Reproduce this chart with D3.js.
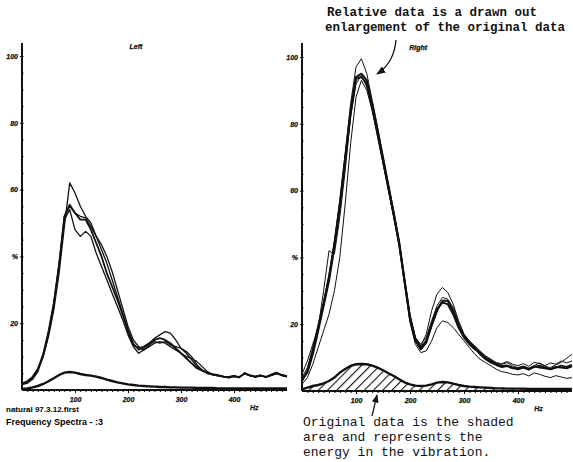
<!DOCTYPE html>
<html>
<head>
<meta charset="utf-8">
<script src="https://cdn.jsdelivr.net/npm/d3@7"></script>
<style>
  body { margin: 0; background: #fff; }
  svg { display: block; }
  .lbl { font-family: "Liberation Sans", Arial, sans-serif; font-weight: bold; font-style: italic; fill: #111; stroke: #111; stroke-width: 0.25; }
  .note { font-family: "Liberation Mono", "DejaVu Sans Mono", monospace; fill: #111; }
</style>
</head>
<body>
<div id="grafico"></div>
<script>
// spettri di frequenza (Hz, % relativo)
const freqs = [0, 10, 20, 30, 40, 50, 60, 70, 80, 90, 100, 110, 120, 130, 140, 150, 160, 170, 180, 190,
  200, 210, 220, 230, 240, 250, 260, 270, 280, 290, 300, 310, 320, 330, 340, 350, 360, 370, 380, 390,
  400, 410, 420, 430, 440, 450, 460, 470, 480, 490, 500];

// pannello sinistro - dati relativi
const leftA = [2, 2.5, 4, 6.5, 10, 16, 24, 35, 49, 62, 59, 55, 52, 50, 46, 42, 38, 33, 28, 23,
  18, 14, 12, 12.5, 14, 15.5, 16.5, 17.5, 17, 15, 12.5, 11, 9, 7, 6, 5.2, 4.8, 4.5, 4, 3.8,
  4.3, 3.7, 5.2, 4.2, 4, 4.4, 3.9, 4.7, 5.3, 4.3, 4];
const leftB = [1.5, 2.3, 3.5, 6, 10.5, 17, 26, 38, 52, 55, 53, 52, 51.5, 49, 46, 43.5, 40, 35.5, 30, 24.5,
  19, 15, 13, 12, 13.5, 14.5, 14, 14.5, 13.5, 13, 12.5, 11.5, 10, 7.5, 6, 5, 4.6, 4.4, 4.1, 3.6,
  4, 3.9, 5, 4.5, 3.8, 4.2, 4, 4.4, 5, 4.6, 4.2];
const leftC = [1.8, 2, 3.2, 5.5, 10, 16.5, 25, 37, 51, 54, 48, 46, 47.5, 46, 41, 37, 33, 29, 25, 21,
  16.5, 13, 11, 12, 13, 14, 14.5, 14, 13, 12, 11, 10, 9.5, 8.5, 7, 5.5, 4.5, 4.2, 3.9, 3.7,
  4.1, 4, 4.8, 4.3, 3.9, 4.5, 3.8, 4.3, 4.9, 4.4, 3.9];
const leftD = [2, 2.6, 3.8, 6.2, 10.8, 17.5, 26, 37.5, 52, 55.5, 53, 51, 51, 48, 44, 40, 35, 31, 27, 22.5,
  17.5, 13.5, 12.5, 13, 14, 15, 15.5, 15, 14, 12.5, 11, 9.5, 8, 6.5, 5.8, 5, 4.6, 4.3, 4, 3.9,
  4.2, 3.8, 4.9, 4.4, 4.1, 4.3, 3.9, 4.5, 5.1, 4.5, 4.1];
// pannello sinistro - dati originali
const leftOrig = [0.3, 0.5, 0.8, 1.2, 1.8, 2.6, 3.5, 4.5, 5.2, 5.4, 5.2, 4.8, 4.5, 4.3, 4, 3.6, 3.1, 2.7, 2.3, 2,
  1.7, 1.5, 1.3, 1.2, 1.1, 1, 0.9, 0.9, 0.8, 0.8, 0.7, 0.7, 0.7, 0.6, 0.6, 0.6, 0.6, 0.5, 0.5, 0.5,
  0.5, 0.5, 0.5, 0.5, 0.5, 0.5, 0.5, 0.5, 0.5, 0.5, 0.5];

// pannello destro - dati relativi
const rightA = [4, 7, 13, 20, 27, 35, 45, 57, 71, 86, 97, 99.5, 95, 87, 79, 70, 62, 54, 45, 34,
  23, 16, 13.5, 17, 24, 29, 31, 29.5, 26, 21, 17, 15, 13.5, 12, 10.5, 9.5, 8.5, 8, 8.5, 7.5,
  7, 7.5, 6.8, 7.6, 8.4, 7.4, 7, 7.8, 8.6, 9.8, 11];
const rightB = [3, 6, 12, 19, 26, 34, 44, 56, 70, 84, 94, 95, 93, 86, 78, 70, 61.5, 53, 44.5, 33,
  22, 15.5, 13, 15, 20, 24.5, 26.5, 26, 23, 19, 16, 14, 12.5, 11.5, 10, 9, 8, 7.5, 7.6, 7,
  6.5, 7, 6.4, 7.2, 7.6, 7, 6.5, 7, 7.6, 7.2, 7.8];
const rightC = [3.5, 5.5, 11, 18, 25.5, 33, 43, 55, 69, 83, 93.5, 94, 92, 85, 77, 69, 61, 52.5, 44, 32.5,
  21.5, 15, 12.5, 14.5, 19.5, 24, 27, 27, 24, 19.5, 16.5, 14.5, 13, 11, 9.5, 8.5, 7.8, 7.2, 7.5, 6.8,
  6.8, 7.2, 6.6, 7.4, 7, 6.8, 6.6, 7.2, 7, 6.8, 7.4];
const rightD = [2, 4, 8, 13, 18, 23, 30, 40, 56, 74, 88, 93, 90, 84, 76, 68, 60, 52, 43, 32,
  20.5, 14, 11.5, 12, 15, 19, 21, 20.5, 19, 17, 15, 13, 11, 9.5, 8.5, 7.5, 6.5, 5.8, 5.5, 5,
  4.8, 5.2, 4.5, 5.4, 5, 4.4, 4, 4.6, 4.2, 3.8, 4];
const rightE = [5, 9, 14, 19, 30, 42, 41, 52, 66, 82, 92, 94.5, 91, 84, 77, 68.5, 60, 52, 44, 33,
  22.5, 16, 14, 16, 21, 25.5, 28, 27.5, 25, 20.5, 17, 15, 13, 11.5, 10, 9.2, 8.4, 8.2, 8.8, 8,
  7.6, 8.2, 7.4, 8.6, 8.2, 7.6, 8.4, 8, 9, 8.4, 9];
// pannello destro - dati originali (area tratteggiata)
const rightOrig = [0.5, 1, 1.5, 1.8, 2.3, 3, 4, 5.5, 6.6, 7.5, 8, 8.1, 8, 7.6, 7, 6.2, 5.3, 4.5, 3.5, 2.6,
  2, 1.6, 1.5, 1.6, 2, 2.5, 2.7, 2.6, 2.2, 1.8, 1.5, 1.3, 1.2, 1.1, 1, 0.9, 0.8, 0.8, 0.7, 0.7,
  0.7, 0.7, 0.6, 0.6, 0.6, 0.6, 0.6, 0.6, 0.6, 0.6, 0.6];

const xTicks = [100, 200, 300, 400];
const yTicks = [20, 40, 60, 80, 100];
const yTickLabels = ["20", "%", "60", "80", "100"];

const width = 573, height = 462;

const svg = d3.select("#grafico")
  .append("svg")
  .attr("width", width)
  .attr("height", height);

const defs = svg.append("defs");

// tratteggio per l'area dei dati originali
defs.append("pattern")
  .attr("id", "hatch")
  .attr("patternUnits", "userSpaceOnUse")
  .attr("width", 6.5)
  .attr("height", 6.5)
  .attr("patternTransform", "rotate(45)")
  .append("line")
  .attr("x1", 0).attr("y1", 0)
  .attr("x2", 0).attr("y2", 6.5)
  .attr("stroke", "#111")
  .attr("stroke-width", 2.2);

defs.append("marker")
  .attr("id", "arrow")
  .attr("viewBox", "0 0 10 10")
  .attr("refX", 9).attr("refY", 5)
  .attr("markerWidth", 7).attr("markerHeight", 7)
  .attr("orient", "auto")
  .append("path")
  .attr("d", "M0,1 L10,5 L0,9 Z")
  .attr("fill", "#111");

function drawPanel(p) {
  const x = d3.scaleLinear().domain([0, 500]).range([p.x0, p.x1]);
  const y = d3.scaleLinear().domain([0, 100]).range([p.yBase, p.yTop]);
  const g = svg.append("g");

  // asse y: linea, tacche e etichette
  g.append("line")
    .attr("x1", p.x0).attr("x2", p.x0)
    .attr("y1", p.axisTop).attr("y2", p.yBase)
    .attr("stroke", "#111").attr("stroke-width", 2);

  const yAxis = g.append("g")
    .attr("transform", `translate(${p.x0},0)`)
    .call(d3.axisLeft(y).tickValues(yTicks).tickSize(2).tickPadding(2)
      .tickFormat((d, i) => yTickLabels[i]));
  yAxis.select(".domain").remove();
  yAxis.selectAll("text").attr("class", "lbl").attr("font-size", 7).attr("font-family", null);

  g.append("g")
    .attr("transform", `translate(${p.x0},0)`)
    .call(d3.axisRight(y).tickValues(d3.range(5, 101, 5)).tickSize(1.5).tickFormat(""))
    .call(a => a.select(".domain").remove());

  // asse x
  g.append("line")
    .attr("x1", p.x0).attr("x2", p.x1)
    .attr("y1", p.yBase).attr("y2", p.yBase)
    .attr("stroke", "#111").attr("stroke-width", 2);

  const xAxis = g.append("g")
    .attr("transform", `translate(0,${p.yBase})`)
    .call(d3.axisBottom(x).tickValues(xTicks).tickSize(3).tickPadding(4));
  xAxis.select(".domain").remove();
  xAxis.selectAll("text").attr("class", "lbl").attr("font-size", 7).attr("font-family", null);

  g.append("g")
    .attr("transform", `translate(0,${p.yBase})`)
    .call(d3.axisBottom(x).tickValues(d3.range(10, 500, 10)).tickSize(2).tickFormat(""))
    .call(a => a.select(".domain").remove());

  g.append("text")
    .attr("class", "lbl")
    .attr("x", x(430))
    .attr("y", p.yBase + 20)
    .attr("font-size", 7)
    .text("Hz");

  g.append("text")
    .attr("class", "lbl")
    .attr("x", x(215))
    .attr("y", p.yTop - 7)
    .attr("text-anchor", "middle")
    .attr("font-size", 7)
    .text(p.title);

  const line = d3.line()
    .x((d, i) => x(freqs[i]))
    .y(d => y(d));

  // dati originali
  if (p.hatched) {
    const area = d3.area()
      .x((d, i) => x(freqs[i]))
      .y0(y(0))
      .y1(d => y(d));
    g.append("path")
      .attr("d", area(p.orig))
      .attr("fill", "url(#hatch)");
  }
  g.append("path")
    .attr("d", line(p.orig))
    .attr("fill", "none")
    .attr("stroke", "#111")
    .attr("stroke-width", 2.4);

  // dati relativi
  p.series.forEach((s, i) => {
    g.append("path")
      .attr("d", line(s))
      .attr("fill", "none")
      .attr("stroke", "#111")
      .attr("stroke-linejoin", "round")
      .attr("stroke-width", p.widths[i]);
  });
}

drawPanel({
  x0: 22, x1: 287, yBase: 390, yTop: 56, axisTop: 43,
  title: "Left",
  series: [leftA, leftB, leftC, leftD],
  widths: [1.3, 1.3, 1.3, 1.8],
  orig: leftOrig,
  hatched: false
});

drawPanel({
  x0: 302, x1: 572, yBase: 391, yTop: 57, axisTop: 43,
  title: "Right",
  series: [rightA, rightB, rightC, rightD, rightE],
  widths: [1, 2, 2, 1, 1],
  orig: rightOrig,
  hatched: true
});

// testi in basso a sinistra
svg.append("text")
  .attr("x", 6).attr("y", 412)
  .attr("font-family", "Liberation Sans, Arial, sans-serif")
  .attr("font-weight", "bold")
  .attr("font-size", 8)
  .text("natural 97.3.12.first");

svg.append("text")
  .attr("x", 6).attr("y", 425)
  .attr("font-family", "Liberation Sans, Arial, sans-serif")
  .attr("font-weight", "bold")
  .attr("font-size", 9)
  .text("Frequency Spectra - :3");

// annotazioni
const topNote = ["Relative data is a drawn out", "enlargement of the original data"];
topNote.forEach((t, i) => {
  svg.append("text")
    .attr("class", "note")
    .attr("x", i === 0 ? 327 : 325)
    .attr("y", 16 + i * 15)
    .attr("font-size", 12.5)
    .attr("font-weight", "bold")
    .text(t);
});

const bottomNote = ["Original data is the shaded", "area and represents the", "energy in the vibration."];
bottomNote.forEach((t, i) => {
  svg.append("text")
    .attr("class", "note")
    .attr("x", 303)
    .attr("y", 426 + i * 15)
    .attr("font-size", 13)
    .text(t);
});

svg.append("path")
  .attr("d", "M396,40 Q394,63 377,74")
  .attr("fill", "none")
  .attr("stroke", "#111")
  .attr("stroke-width", 1.3)
  .attr("marker-end", "url(#arrow)");

svg.append("path")
  .attr("d", "M372,416 L377,395")
  .attr("fill", "none")
  .attr("stroke", "#111")
  .attr("stroke-width", 1.2)
  .attr("marker-end", "url(#arrow)");
</script>
</body>
</html>
